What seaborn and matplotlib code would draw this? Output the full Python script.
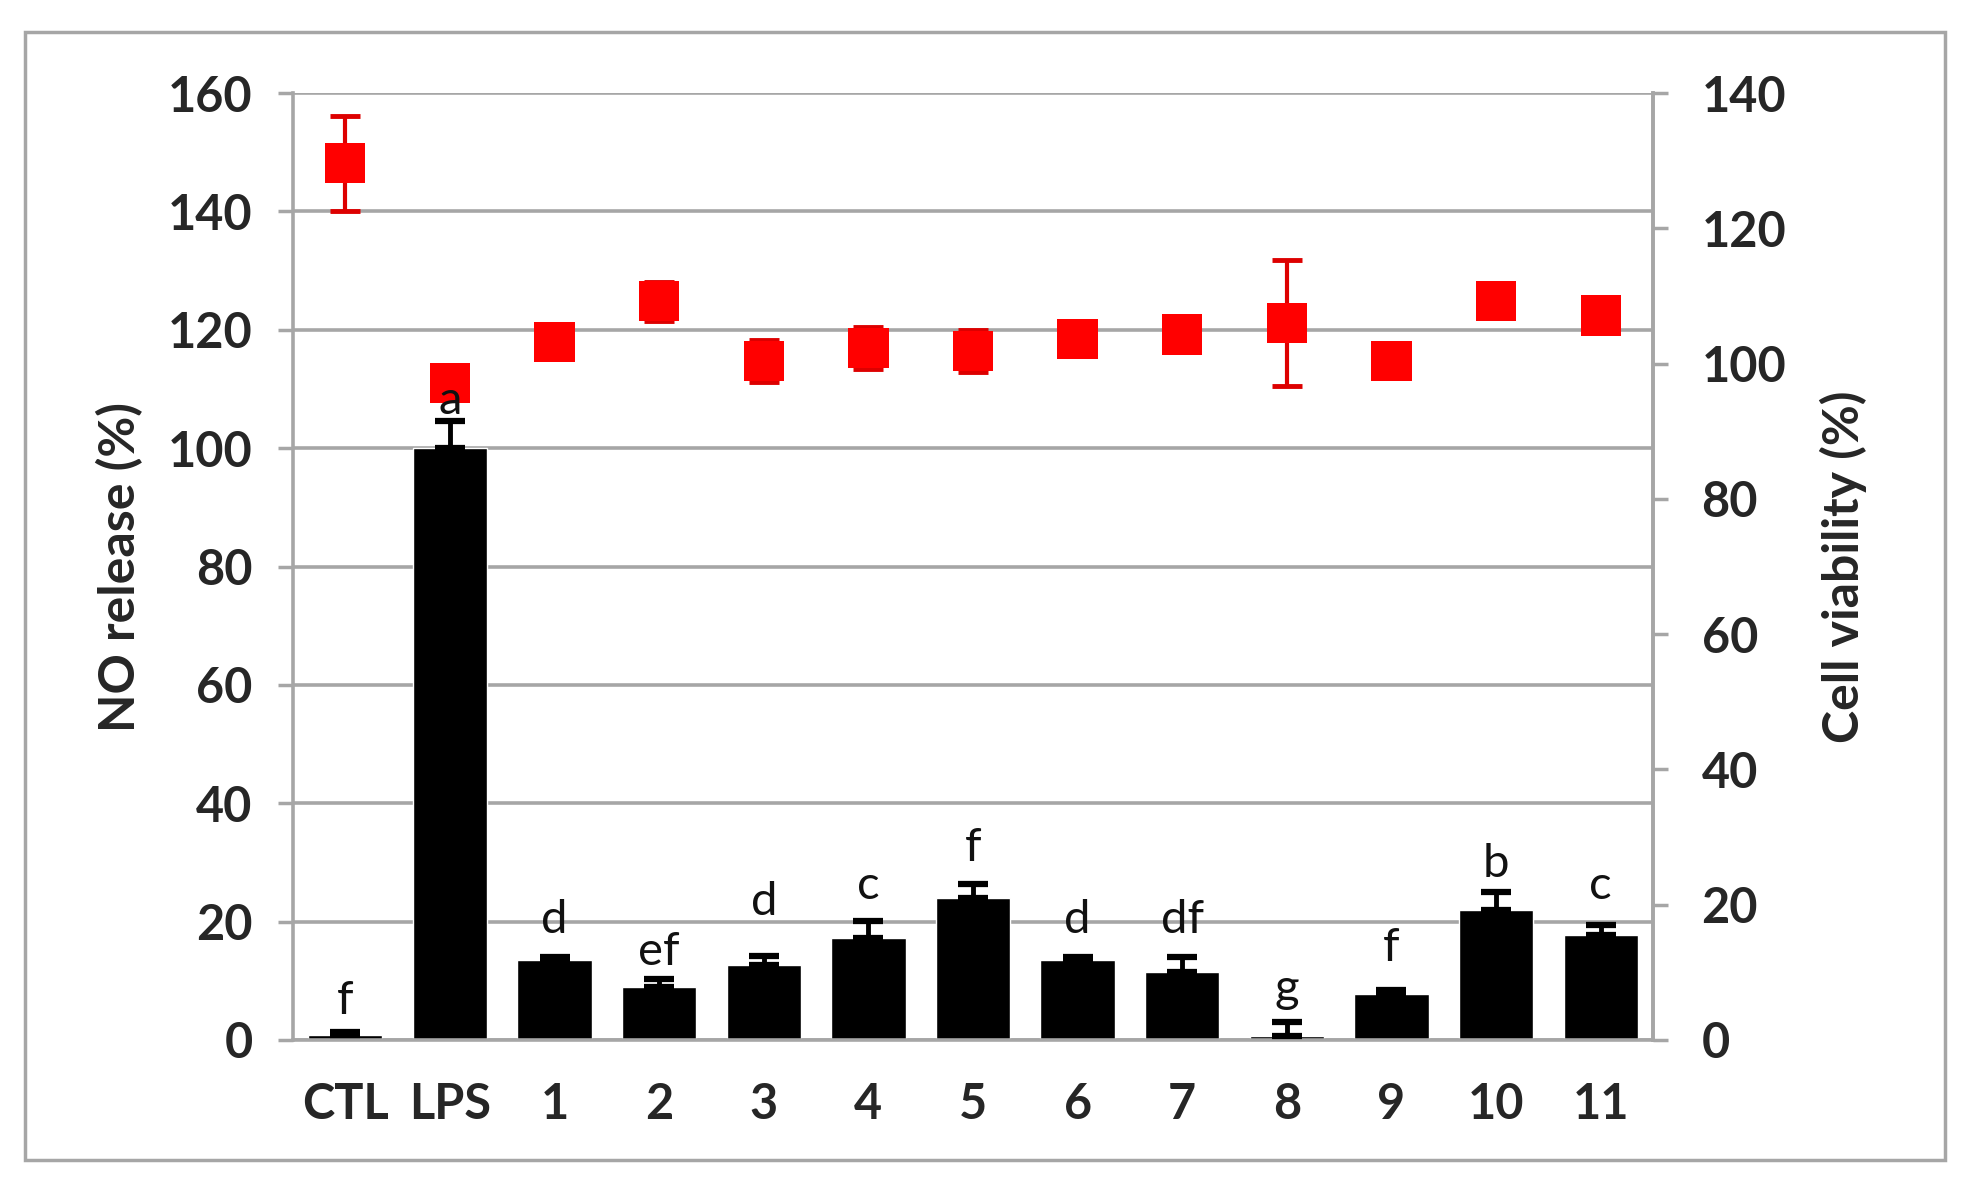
import matplotlib
matplotlib.use("Agg")
import matplotlib.pyplot as plt
import seaborn as sns
import numpy as np
import pandas as pd
from matplotlib.patches import Rectangle

# DATA
groups = ["CTL", "LPS", "1", "2", "3", "4", "5", "6", "7", "8", "9", "10", "11"]
no_release = [0.8, 100, 13.5, 9.0, 12.7, 17.3, 24.0, 13.5, 11.5, 0.7, 7.8, 22.0, 17.8]
no_err = [0.5, 4.5, 0.5, 1.3, 1.5, 2.8, 2.4, 0.5, 2.5, 2.3, 0.7, 3.0, 1.6]
viability = [129.6, 97.1, 103.2, 109.2, 100.4, 102.3, 101.9, 103.6, 104.3, 106.0, 100.4, 109.2, 107.1]
via_err = [7.0, 0.8, 0.8, 2.9, 3.1, 3.1, 3.1, 1.0, 1.0, 9.3, 0.8, 1.0, 1.0]
letters = ["f", "a", "d", "ef", "d", "c", "f", "d", "df", "g", "f", "b", "c"]
letter_y = [6.6, 108, 20.2, 14.9, 23.4, 26, 32.5, 20.2, 20.2, 8.6, 15.5, 29.7, 26]

# STYLE
sns.set_theme(style="white")
plt.rcParams['font.family'] = ['Lato', 'DejaVu Sans']

GRID = "#a6a6a6"
W, H = 1970, 1188

df = pd.DataFrame({"group": groups, "no": no_release, "via": viability})

fig = plt.figure(figsize=(W / 100, H / 100), dpi=100)
ax = fig.add_axes([293 / W, 1 - 1040 / H, (1653 - 293) / W, (1040 - 93) / H])

# BARS
sns.barplot(data=df, x="group", y="no", color="black", width=0.71,
            errorbar=None, saturation=1, ax=ax, zorder=2)
x = np.arange(len(groups))
ax.errorbar(x, no_release, yerr=[np.zeros(len(no_err)), no_err], fmt="none",
            ecolor="black", elinewidth=3.5, capsize=11, capthick=4.5, zorder=3)

ax.set_xlim(-0.5, len(groups) - 0.5)
ax.set_ylim(0, 160)
ax.set_yticks(np.arange(0, 161, 20))
ax.yaxis.grid(True, color=GRID, lw=2.6)
ax.set_axisbelow(True)
ax.set_xlabel("")
ax.set_ylabel("NO release (%)", fontsize=36, fontweight="bold", labelpad=18)

ax.set_xticks(x)
ax.set_xticklabels(groups, fontsize=35, fontweight="bold")
ax.set_xticks(np.arange(-0.5, len(groups), 1), minor=True)
ax.tick_params(axis="x", which="major", length=0, pad=30)
ax.tick_params(axis="x", which="minor", length=15, width=2.5, color=GRID, direction="out")
ax.tick_params(axis="y", length=11, width=2.5, color=GRID, direction="out",
               labelsize=35, pad=18, left=True)
for lab in ax.get_yticklabels():
    lab.set_fontweight("bold")

for side in ["left", "bottom", "right"]:
    ax.spines[side].set_visible(True)
    ax.spines[side].set_color(GRID)
    ax.spines[side].set_linewidth(2.6)
ax.spines["top"].set_visible(False)

# CELL VIABILITY (right axis)
ax2 = ax.twinx()
ax2.errorbar(x, viability, yerr=via_err, fmt="none", ecolor="#dd0000",
             elinewidth=3, capsize=11, capthick=3.5, zorder=2)
sns.scatterplot(x=x, y=viability, marker="s", s=29 ** 2, color="#ff0000",
                edgecolor="none", ax=ax2, zorder=3)
ax2.set_ylim(0, 140)
ax2.set_yticks(np.arange(0, 141, 20))
ax2.tick_params(axis="y", length=11, width=2.5, color=GRID, direction="out",
                labelsize=35, pad=24, right=True)
for lab in ax2.get_yticklabels():
    lab.set_fontweight("bold")
ax2.set_ylabel("Cell viability (%)", fontsize=36, fontweight="bold", labelpad=24)
ax2.grid(False)
for side in ["left", "bottom", "top"]:
    ax2.spines[side].set_visible(False)
ax2.spines["right"].set_color(GRID)
ax2.spines["right"].set_linewidth(2.6)

# SIGNIFICANCE LETTERS
for xi, yi, t in zip(x, letter_y, letters):
    ax2.text(xi, yi, t, transform=ax.transData, ha="center", va="center",
             fontsize=34, color="#111111", zorder=5)

# OUTER FRAME
fig.patches.append(Rectangle((25 / W, 1 - 1160 / H), (1945 - 25) / W, (1160 - 32) / H,
                             transform=fig.transFigure, fill=False,
                             edgecolor=GRID, lw=2.5))

fig.savefig("out.png", dpi=100)
